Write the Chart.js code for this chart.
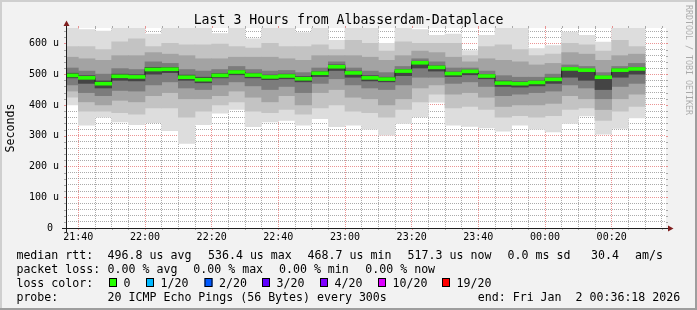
<!DOCTYPE html>
<html>
<head>
<meta charset="utf-8">
<title>Last 3 Hours from Albasserdam-Dataplace</title>
<script src="https://cdn.jsdelivr.net/npm/chart.js@4.4.1/dist/chart.umd.min.js"></script>
<style>
  html, body { margin: 0; padding: 0; background: #f2f2f2; }
  canvas { display: block; }
</style>
</head>
<body>
<canvas id="smoke" width="697" height="310"></canvas>
<script>
// ========== DATA (values in microseconds) ==========
const slots = [
  "21:35", "21:40", "21:45", "21:50", "21:55", "22:00", "22:05", "22:10", "22:15",
  "22:20", "22:25", "22:30", "22:35", "22:40", "22:45", "22:50", "22:55", "23:00",
  "23:05", "23:10", "23:15", "23:20", "23:25", "23:30", "23:35", "23:40", "23:45",
  "23:50", "23:55", "00:00", "00:05", "00:10", "00:15", "00:20", "00:25"
];
const tickLabels = ["21:40", "22:00", "22:20", "22:40", "23:00", "23:20", "23:40", "00:00", "00:20"];
const windowStart = "21:36:18";
const windowEnd = "00:36:18";

const median = [496, 488, 469, 493, 491, 515, 516, 490, 482, 496, 507, 497, 491, 494, 485, 503, 524, 504,
  488, 484, 510, 537, 522, 502, 509, 494, 471, 469, 473, 483, 517, 513, 490, 513, 517];

// sorted ping ranks (1 = fastest of 20, 20 = slowest)
const ping20 = [660, 645, 640, 655, 660, 630, 655, 655, 660, 632, 660, 615, 655, 660, 635, 655, 610, 660,
  660, 600, 660, 645, 626, 630, 577, 626, 660, 660, 583, 593, 637, 626, 604, 660, 660];
const ping18 = [590, 590, 580, 605, 615, 590, 600, 595, 595, 598, 590, 585, 600, 590, 590, 595, 580, 610,
  600, 575, 605, 600, 600, 600, 560, 590, 595, 580, 560, 565, 600, 595, 575, 610, 590];
const ping16 = [555, 550, 545, 560, 560, 570, 565, 560, 550, 550, 555, 555, 555, 550, 545, 560, 560, 560,
  555, 545, 560, 575, 570, 555, 540, 550, 545, 540, 530, 535, 570, 565, 545, 560, 565];
const ping14 = [520, 510, 500, 518, 515, 540, 535, 515, 510, 515, 525, 515, 510, 512, 505, 520, 540, 520,
  510, 505, 525, 550, 540, 520, 520, 510, 495, 490, 490, 500, 530, 525, 505, 525, 535];
const ping12 = [503, 495, 478, 500, 498, 522, 522, 497, 490, 502, 512, 503, 497, 500, 492, 508, 530, 510,
  495, 490, 515, 542, 527, 507, 513, 499, 478, 475, 478, 488, 520, 516, 494, 517, 522];
const ping09 = [488, 470, 455, 480, 478, 500, 505, 480, 472, 488, 498, 488, 482, 485, 475, 492, 512, 490,
  478, 475, 495, 520, 510, 492, 498, 485, 460, 458, 462, 470, 490, 480, 450, 490, 500];
const ping07 = [465, 440, 430, 447, 445, 465, 475, 455, 450, 465, 475, 462, 450, 460, 440, 470, 485, 465,
  455, 450, 465, 490, 490, 470, 475, 460, 430, 435, 440, 445, 465, 455, 420, 460, 470];
const ping05 = [445, 410, 400, 415, 410, 430, 440, 420, 420, 430, 445, 425, 410, 430, 400, 440, 450, 425,
  420, 400, 420, 455, 465, 435, 440, 425, 395, 400, 400, 405, 430, 420, 385, 420, 435];
const ping03 = [425, 380, 380, 375, 370, 390, 390, 360, 380, 400, 410, 380, 375, 385, 370, 390, 400, 380,
  375, 360, 385, 410, 435, 390, 395, 385, 360, 365, 360, 365, 385, 390, 350, 380, 395];
const ping01 = [400, 334, 360, 345, 336, 342, 316, 275, 336, 373, 385, 329, 345, 350, 334, 355, 329, 334,
  321, 302, 340, 361, 409, 334, 330, 325, 315, 334, 321, 312, 340, 364, 305, 324, 358];

const lossColors = ["#26ff00", "#00b8ff", "#0059ff", "#5e00ff", "#7e00ff", "#dd00ff", "#ff0000"];
const lossLabels = ["0", "1/20", "2/20", "3/20", "4/20", "10/20", "19/20"];

// ========== HELPERS ==========
const FONT = "'DejaVu Sans Mono', monospace";
const GRID = "rgba(143,143,143,0.75)";
const MGRID = "rgba(222,79,79,0.6)";

function toMinutes(t) {
  const p = t.split(":").map(Number);
  let h = p[0];
  if (h < 12) h += 24;
  return (h - 21) * 60 + p[1] + (p[2] || 0) / 60;
}

function fromMinutes(v) {
  const h = (21 + Math.floor(v / 60)) % 24;
  const m = Math.round(v % 60);
  return String(h).padStart(2, "0") + ":" + String(m).padStart(2, "0");
}

const majorTicks = tickLabels.map(toMinutes);
const xMin = toMinutes(windowStart);
const xMax = toMinutes(windowEnd);
const centers = slots.map((s) => toMinutes(s) + 2.5);

// smoke bands, outermost first (colours as smokeping shades them)
const bands = [
  { lo: ping01, hi: ping20, color: "#dddddd" },
  { lo: ping03, hi: ping18, color: "#c3c3c3" },
  { lo: ping05, hi: ping16, color: "#a3a3a3" },
  { lo: ping07, hi: ping14, color: "#7c7c7c" },
  { lo: ping09, hi: ping12, color: "#444444" },
];

const datasets = bands.map((b, i) => ({
  type: "bar",
  data: centers.map((x, j) => ({ x: x, y: [b.lo[j], b.hi[j]] })),
  backgroundColor: b.color,
  grouped: false,
  barPercentage: 1,
  categoryPercentage: 1,
  order: 10 - i,
}));

datasets.push({
  type: "line",
  data: centers.map((x, j) => ({ x: x, y: median[j] })),
  stepped: "middle",
  borderColor: "#202020",
  borderWidth: 1,
  pointRadius: 0,
  order: 2,
});

datasets.push({
  type: "bar",
  data: centers.map((x, j) => ({ x: x, y: [median[j] - 4.8, median[j] + 4.8] })),
  backgroundColor: lossColors[0],
  grouped: false,
  barPercentage: 1,
  categoryPercentage: 1,
  order: 1,
});

// ========== FRAME, AXES, TITLE AND LEGEND ==========
const rrdFrame = {
  id: "rrdFrame",
  beforeDraw(chart) {
    const { ctx, chartArea: a, width, height } = chart;
    ctx.save();
    ctx.fillStyle = "#f2f2f2";
    ctx.fillRect(0, 0, width, height);
    ctx.fillStyle = "#cfcfcf";
    ctx.fillRect(0, 0, width, 2);
    ctx.fillRect(0, 0, 2, height);
    ctx.fillStyle = "#9e9e9e";
    ctx.fillRect(0, height - 2, width, 2);
    ctx.fillRect(width - 2, 0, 2, height);
    ctx.fillStyle = "#ffffff";
    ctx.fillRect(a.left, a.top, a.right - a.left, a.bottom - a.top);
    ctx.restore();
  },
  afterDraw(chart) {
    const { ctx, chartArea: a, width } = chart;
    const xs = chart.scales.x;
    const ys = chart.scales.y;
    const x0 = Math.round(a.left) + 0.5;
    const y0 = Math.round(a.bottom) + 0.5;
    ctx.save();

    // little ticks outside the plot
    ctx.lineWidth = 1;
    xs.ticks.forEach((t) => {
      const px = Math.round(xs.getPixelForValue(t.value)) + 0.5;
      ctx.strokeStyle = majorTicks.includes(t.value) ? MGRID : GRID;
      ctx.beginPath();
      ctx.moveTo(px, a.bottom);
      ctx.lineTo(px, a.bottom + 2);
      ctx.moveTo(px, a.top - 2);
      ctx.lineTo(px, a.top);
      ctx.stroke();
    });
    ys.ticks.forEach((t) => {
      const py = Math.round(ys.getPixelForValue(t.value)) + 0.5;
      ctx.strokeStyle = t.value % 100 === 0 ? MGRID : GRID;
      ctx.beginPath();
      ctx.moveTo(a.left - 2, py);
      ctx.lineTo(a.left, py);
      ctx.moveTo(a.right, py);
      ctx.lineTo(a.right + 2, py);
      ctx.stroke();
    });

    // axes
    ctx.strokeStyle = "#1f1f1f";
    ctx.beginPath();
    ctx.moveTo(a.left - 4, y0);
    ctx.lineTo(a.right + 4, y0);
    ctx.moveTo(x0, a.bottom + 4);
    ctx.lineTo(x0, a.top - 4);
    ctx.stroke();
    ctx.fillStyle = "#801f1f";
    ctx.beginPath();
    ctx.moveTo(a.right + 2, y0 - 3);
    ctx.lineTo(a.right + 7.5, y0);
    ctx.lineTo(a.right + 2, y0 + 3);
    ctx.closePath();
    ctx.fill();
    ctx.beginPath();
    ctx.moveTo(x0 - 3, a.top - 2);
    ctx.lineTo(x0, a.top - 7.5);
    ctx.lineTo(x0 + 3, a.top - 2);
    ctx.closePath();
    ctx.fill();

    // title
    ctx.fillStyle = "#000";
    ctx.font = "13.2px " + FONT;
    ctx.textAlign = "center";
    ctx.textBaseline = "alphabetic";
    ctx.fillText("Last 3 Hours from Albasserdam-Dataplace", width / 2, 23.5);

    // legend
    ctx.font = "11.6px " + FONT;
    ctx.textAlign = "left";
    const rows = [
      [259, [[16.4, "median rtt:"], [107.6, "496.8 us avg"], [208, "536.4 us max"], [307.6, "468.7 us min"],
        [407.6, "517.3 us now"], [507.6, "0.0 ms sd"], [591, "30.4"], [635, "am/s"]]],
      [273, [[16.4, "packet loss:"], [107.6, "0.00 % avg"], [193.3, "0.00 % max"], [279, "0.00 % min"],
        [365.3, "0.00 % now"]]],
      [287, [[16.4, "loss color:"]]],
      [301, [[16.4, "probe:"], [107.6, "20 ICMP Echo Pings (56 Bytes) every 300s"],
        [477.8, "end: Fri Jan  2 00:36:18 2026"]]],
    ];
    rows.forEach(([y, items]) => items.forEach(([x, s]) => ctx.fillText(s, x, y)));

    const boxX = [109, 146, 204.5, 262, 320, 378, 442];
    lossLabels.forEach((lab, i) => {
      ctx.fillStyle = lossColors[i];
      ctx.fillRect(boxX[i], 278, 8, 9);
      ctx.strokeStyle = "#000";
      ctx.strokeRect(boxX[i] + 0.5, 278.5, 7, 8);
      ctx.fillStyle = "#000";
      ctx.fillText(lab, boxX[i] + 14.5, 287);
    });

    // watermark
    ctx.translate(688, 5);
    ctx.rotate(Math.PI / 2);
    ctx.font = "8.3px " + FONT;
    ctx.fillStyle = "rgba(0,0,0,0.3)";
    ctx.textBaseline = "middle";
    ctx.fillText("RRDTOOL / TOBI OETIKER", 0, 0);
    ctx.restore();
  },
};

// ========== CHART ==========
new Chart(document.getElementById("smoke"), {
  type: "bar",
  data: { datasets: datasets },
  plugins: [rrdFrame],
  options: {
    responsive: false,
    animation: false,
    devicePixelRatio: 1,
    layout: { padding: { top: 28, right: 31, bottom: 60, left: 0 } },
    plugins: {
      legend: { display: false },
      tooltip: { enabled: false },
    },
    scales: {
      x: {
        type: "linear",
        min: xMin,
        max: xMax,
        offset: false,
        z: 1,
        grid: {
          offset: false,
          drawTicks: false,
          color: (c) => (majorTicks.includes(c.tick.value) ? MGRID : GRID),
        },
        border: { display: false, dash: [1, 1] },
        ticks: {
          autoSkip: false,
          maxRotation: 0,
          padding: 3,
          color: "#000",
          font: { family: FONT, size: 10 },
          callback: (v) => (majorTicks.includes(v) ? fromMinutes(v) : ""),
        },
        afterBuildTicks: (scale) => {
          const ticks = [];
          for (let v = Math.ceil(xMin / 5) * 5; v <= xMax; v += 5) ticks.push({ value: v });
          scale.ticks = ticks;
        },
        afterFit: (scale) => { scale.height = 22; },
      },
      y: {
        min: 0,
        max: 650,
        z: 1,
        grid: {
          drawTicks: false,
          color: (c) => (c.tick.value % 100 === 0 ? MGRID : GRID),
        },
        border: { display: false, dash: [1, 1] },
        ticks: {
          stepSize: 20,
          autoSkip: false,
          includeBounds: false,
          padding: 7,
          color: "#000",
          font: { family: FONT, size: 10 },
          callback: (v) => (v % 100 === 0 ? (v === 0 ? "0 " : v + " u") : ""),
        },
        title: {
          display: true,
          text: "Seconds",
          color: "#000",
          font: { family: FONT, size: 11.6 },
          padding: { top: 4, bottom: 0 },
        },
        afterFit: (scale) => { scale.width = 66; },
      },
    },
  },
});
</script>
</body>
</html>
